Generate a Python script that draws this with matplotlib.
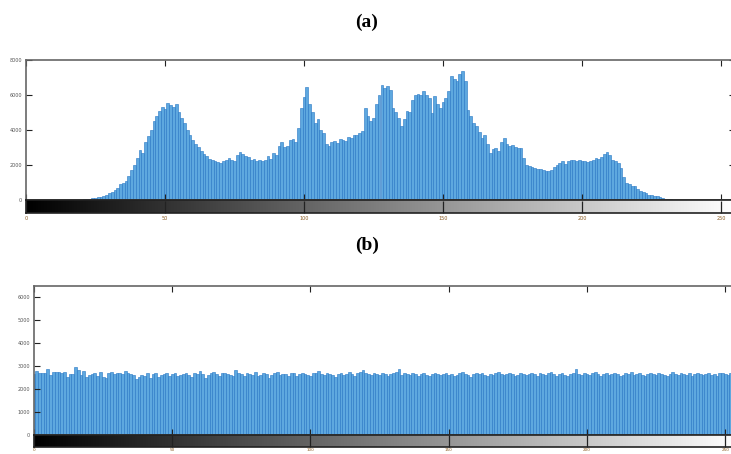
import numpy as np
import matplotlib.pyplot as plt

# histogram (a): counts per gray level 0..255
counts_a = [0] * 20 + [
    20, 40, 60, 80, 110, 130, 170, 200, 250, 300,
    380, 450, 560, 700, 900, 1000, 1100, 1350, 1700, 2000,
    2400, 2850, 2700, 3300, 3650, 4000, 4500, 4800, 5080, 5300,
    5200, 5540, 5400, 5300, 5500, 5000, 4700, 4400, 4000, 3700,
    3450, 3200, 3000, 2800, 2600, 2500, 2350, 2300, 2200, 2150,
    2100, 2250, 2300, 2400, 2300, 2200, 2550, 2750, 2650, 2500,
    2450, 2300, 2350, 2250, 2300, 2200, 2300, 2500, 2350, 2700,
    2550, 3100, 3300, 3050, 3100, 3400, 3500, 3300, 4100, 5250,
    5900, 6430, 5500, 5000, 4400, 4600, 4000, 3800, 3200, 3080,
    3300, 3370, 3250, 3500, 3450, 3380, 3600, 3550, 3700, 3730,
    3840, 3940, 5250, 4800, 4500, 4700, 5500, 6010, 6580, 6400,
    6490, 6300, 5250, 5000, 4700, 4230, 4600, 5080, 5000, 5700,
    6010, 6050, 6000, 6220, 6000, 5800, 4970, 5940, 5500, 5250,
    5600, 5820, 6200, 7060, 6900, 6780, 7200, 7380, 6780, 5160,
    4800, 4400, 4200, 3900, 3540, 3700, 3200, 2680, 2900, 2970,
    2800, 3300, 3540, 3200, 3080, 3150, 3000, 2970, 2950, 2400,
    2020, 1950, 1900, 1830, 1800, 1750, 1700, 1660, 1650, 1700,
    1900, 2020, 2100, 2200, 2050, 2250, 2300, 2280, 2220, 2300,
    2200, 2220, 2150, 2250, 2300, 2400, 2350, 2450, 2600, 2720,
    2550, 2300, 2250, 2100, 1830, 1300, 970, 900, 800, 780,
    650, 510, 450, 380, 300, 280, 250, 230, 180, 120,
    80, 50, 30, 20, 10, 5] + [0] * 20

# histogram (b): equalized, nearly flat
counts_b = [
    2650, 2780, 2700, 2720, 2690, 2880, 2600, 2750, 2740, 2760,
    2700, 2750, 2520, 2680, 2650, 2950, 2850, 2620, 2780, 2540,
    2600, 2660, 2700, 2580, 2760, 2540, 2480, 2700, 2750, 2660,
    2700, 2720, 2660, 2800, 2720, 2680, 2600, 2450, 2540, 2620,
    2560, 2700, 2480, 2650, 2700, 2520, 2600, 2660, 2720, 2580,
    2640, 2700, 2560, 2620, 2680, 2720, 2600, 2540, 2700, 2650,
    2800, 2680, 2500, 2620, 2700, 2760, 2640, 2580, 2700, 2720,
    2680, 2600, 2560, 2850, 2720, 2640, 2580, 2700, 2680, 2620,
    2740, 2560, 2600, 2700, 2650, 2500, 2620, 2700, 2760, 2600,
    2680, 2640, 2560, 2700, 2720, 2580, 2640, 2700, 2660, 2620,
    2560, 2700, 2720, 2800, 2640, 2600, 2700, 2680, 2620, 2540,
    2660, 2720, 2600, 2680, 2740, 2640, 2580, 2700, 2760, 2820,
    2700, 2640, 2600, 2720, 2680, 2620, 2700, 2660, 2580, 2640,
    2700, 2760, 2880, 2620, 2700, 2660, 2600, 2720, 2680, 2560,
    2640, 2700, 2620, 2580, 2660, 2720, 2680, 2600, 2640, 2700,
    2620, 2680, 2560, 2600, 2700, 2740, 2660, 2600, 2520, 2680,
    2720, 2640, 2700, 2600, 2560, 2680, 2620, 2700, 2740, 2660,
    2600, 2640, 2720, 2680, 2560, 2620, 2700, 2660, 2600, 2680,
    2720, 2640, 2580, 2700, 2660, 2620, 2700, 2760, 2640, 2580,
    2660, 2700, 2620, 2560, 2680, 2720, 2900, 2640, 2600, 2700,
    2660, 2620, 2700, 2760, 2640, 2580, 2680, 2720, 2600, 2660,
    2700, 2640, 2560, 2620, 2700, 2680, 2740, 2600, 2660, 2700,
    2620, 2580, 2680, 2720, 2640, 2600, 2700, 2660, 2620, 2560,
    2680, 2740, 2640, 2600, 2700, 2660, 2620, 2700, 2580, 2640,
    2720, 2680, 2600, 2660, 2700, 2620, 2640, 2580, 2700, 2720,
    2660, 2600, 2700, 2640, 2680, 2720]

levels = np.arange(256)
xticks = [0, 50, 100, 150, 200, 250]
yticks_a = [0, 2000, 4000, 6000, 8000]
yticks_b = [0, 1000, 2000, 3000, 4000, 5000, 6000]

W, H = 731, 454
fig = plt.figure(figsize=(W / 100, H / 100), dpi=100)

def px(l, t, r, b):
    return [l / W, 1 - b / H, (r - l) / W, (b - t) / H]

def panel(counts, box, cbox, ylim, yticks, lsize, lpad):
    ax = fig.add_axes(px(*box))
    ax.bar(levels, counts, width=1.0, color='#5ea8df', edgecolor='#2474c4',
           linewidth=0.4)
    ax.set_xlim(0, 255)
    ax.set_ylim(*ylim)
    ax.set_xticks(xticks)
    ax.set_xticklabels([])
    ax.set_yticks(yticks)
    ax.set_yticklabels([str(v) for v in yticks], fontsize=3.5, color='#555555')
    ax.tick_params(direction='in', length=4, width=0.8, top=True, right=True,
                   pad=3, color='#222222')
    for s in ax.spines.values():
        s.set_color('#666666')
        s.set_linewidth(1.2)

    cb = fig.add_axes(px(*cbox))
    grad = np.linspace(0, 1, 256)[None, :]
    cb.imshow(grad, aspect='auto', cmap='gray', extent=(0, 255, 0, 1))
    cb.set_xlim(0, 255)
    cb.set_yticks([])
    cb.set_xticks(xticks)
    cb.set_xticklabels([str(v) for v in xticks], fontsize=lsize, color='#8a5a20')
    cb.tick_params(direction='in', length=9, width=0.9, pad=lpad,
                   color='#222222')
    for s in cb.spines.values():
        s.set_color('#222222')
        s.set_linewidth(1.2)
    return ax

panel(counts_a, (26, 60, 735, 200), (26, 200, 735, 213), (0, 8000), yticks_a,
      3.5, 2)
panel(counts_b, (34, 286, 739, 435), (34, 435, 739, 447), (0, 6500), yticks_b,
      3.0, 0.8)

fig.text(367 / W, 1 - 22 / H, '(a)', ha='center', va='center', fontsize=14,
         fontweight='bold', family='Liberation Serif')
fig.text(367 / W, 1 - 245 / H, '(b)', ha='center', va='center', fontsize=14,
         fontweight='bold', family='Liberation Serif')

fig.savefig('out.png', dpi=100)
